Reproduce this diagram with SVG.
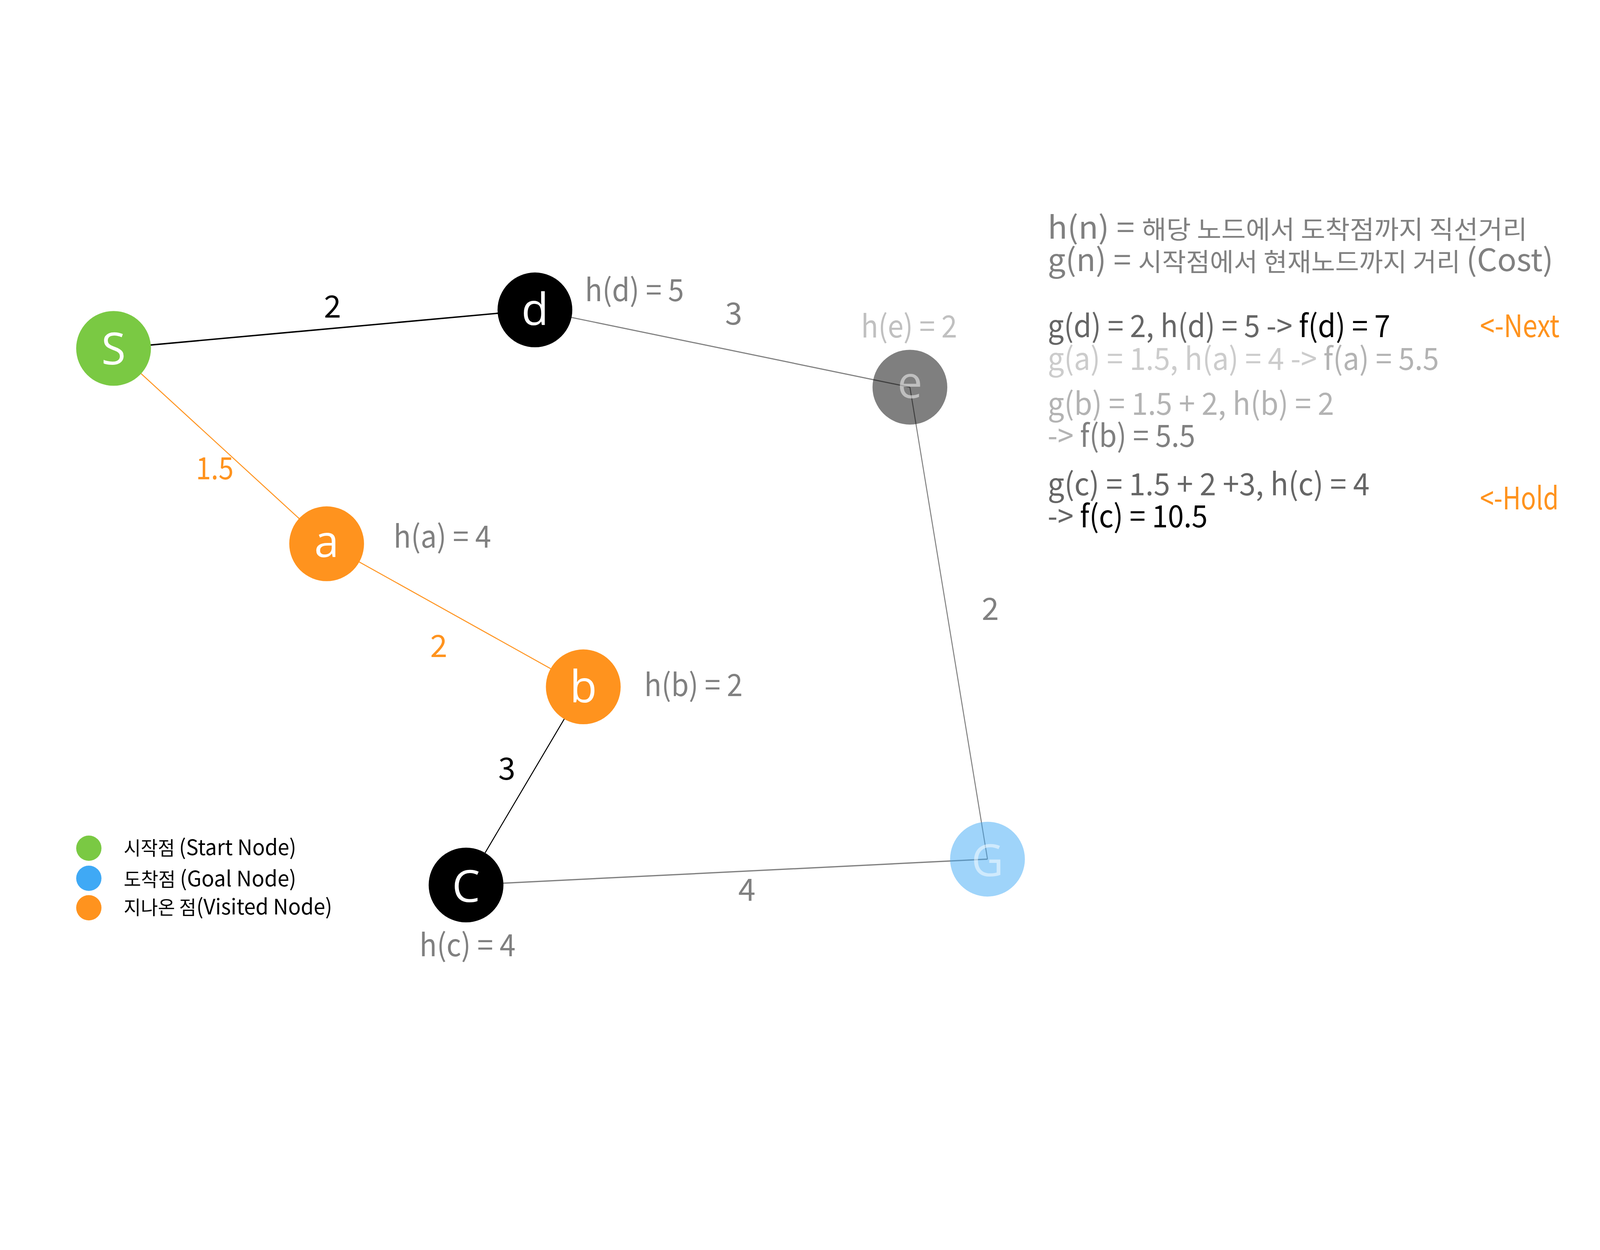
<svg xmlns="http://www.w3.org/2000/svg" width="5692" height="3200" viewBox="0 0 5692 3200">
  <style>
    svg:root { width: 100vw; height: 100vh; }
    text { font-family: "Noto Sans CJK KR", "Noto Sans", sans-serif; }
    .nl { font-family: "Open Sans", "Noto Sans", sans-serif; font-size: 158px; fill: #ffffff; text-anchor: middle; }
    .lb { font-size: 110px; }
    .el { font-size: 110px; text-anchor: middle; }
    .pn { font-size: 110px; }
    .ko { font-size: 90px; }
    .lg { font-size: 76px; fill: #000000; }
    .lk { font-size: 68px; }
    .gray { fill: #808080; }
    .orange { fill: #FF931E; }
  </style>
  <rect x="0" y="0" width="5692" height="3200" fill="#ffffff"/>

  <g id="connectors">
    <line id="edge-S-d" x1="404" y1="616" x2="1903" y2="479" stroke="#000000" stroke-width="5"/>
    <line id="edge-d-e" x1="1903" y1="479" x2="3237" y2="754" stroke="#808080" stroke-width="4"/>
    <line id="edge-S-a" x1="404" y1="616" x2="1162" y2="1311" stroke="#FF931E" stroke-width="3.5"/>
    <line id="edge-a-b" x1="1162" y1="1311" x2="2075" y2="1820" stroke="#FF931E" stroke-width="3.5"/>
    <line id="edge-b-c" x1="2075" y1="1820" x2="1658" y2="2525" stroke="#000000" stroke-width="3.5"/>
    <line id="edge-e-G" x1="3237" y1="754" x2="3513" y2="2433" stroke="#808080" stroke-width="3.5"/>
    <line id="edge-c-G" x1="1658" y1="2525" x2="3513" y2="2433" stroke="#808080" stroke-width="4.5"/>
    <text class="el" x="1183" y="507" fill="#000000">2</text>
    <text class="el gray" x="2610" y="531">3</text>
    <text class="el orange" x="764" y="1082" textLength="134" lengthAdjust="spacingAndGlyphs">1.5</text>
    <text class="el orange" x="1561" y="1714">2</text>
    <text class="el" x="1803" y="2151" fill="#000000">3</text>
    <text class="el gray" x="3523" y="1582">2</text>
    <text class="el gray" x="2657" y="2581">4</text>
  </g>

  <g id="node-S">
    <circle cx="404" cy="616" r="133" fill="#7AC943"/>
    <text class="nl" x="404" y="673">S</text>
  </g>
  <g id="node-d">
    <circle cx="1903" cy="479" r="133" fill="#000000"/>
    <text class="nl" x="1903" y="533">d</text>
    <text class="lb gray" x="2081" y="448" textLength="352" lengthAdjust="spacingAndGlyphs">h(d) = 5</text>
  </g>
  <g id="node-e">
    <circle cx="3237" cy="754" r="133" fill="#000000" fill-opacity="0.5"/>
    <text class="nl" x="3237" y="793" fill-opacity="0.5">e</text>
    <text class="lb" x="3063" y="577" fill="#c0c0c0" textLength="342" lengthAdjust="spacingAndGlyphs">h(e) = 2</text>
  </g>
  <g id="node-a">
    <circle cx="1162" cy="1311" r="133" fill="#FF931E"/>
    <text class="nl" x="1162" y="1358">a</text>
    <text class="lb gray" x="1400" y="1325" textLength="347" lengthAdjust="spacingAndGlyphs">h(a) = 4</text>
  </g>
  <g id="node-b">
    <circle cx="2075" cy="1820" r="133" fill="#FF931E"/>
    <text class="nl" x="2075" y="1875">b</text>
    <text class="lb gray" x="2292" y="1853" textLength="350" lengthAdjust="spacingAndGlyphs">h(b) = 2</text>
  </g>
  <g id="node-c">
    <circle cx="1658" cy="2525" r="133" fill="#000000"/>
    <text class="nl" x="1658" y="2585">C</text>
    <text class="lb gray" x="1492" y="2779" textLength="342" lengthAdjust="spacingAndGlyphs">h(c) = 4</text>
  </g>
  <g id="node-G">
    <circle cx="3513" cy="2433" r="133" fill="#3FA9F5" fill-opacity="0.5"/>
    <text class="nl" x="3513" y="2493" fill-opacity="0.5">G</text>
  </g>

  <g id="panel">
    <text class="pn gray" x="3727" y="226" textLength="1706" lengthAdjust="spacingAndGlyphs">h(n) = <tspan class="ko">해당 노드에서 도착점까지 직선거리</tspan></text>
    <text class="pn gray" x="3727" y="341" textLength="1799" lengthAdjust="spacingAndGlyphs">g(n) = <tspan class="ko">시작점에서 현재노드까지 거리 </tspan>(Cost)</text>
    <text class="pn" x="3727" y="576" fill="#666666" textLength="1219" lengthAdjust="spacingAndGlyphs">g(d) = 2, h(d) = 5 -&gt; <tspan fill="#000000">f(d) = 7</tspan></text>
    <text class="pn" x="3727" y="692" fill="#cccccc" textLength="1392" lengthAdjust="spacingAndGlyphs">g(a) = 1.5, h(a) = 4 -&gt; <tspan fill="#b3b3b3">f(a) = 5.5</tspan></text>
    <text class="pn" x="3727" y="852" fill="#b3b3b3" textLength="1019" lengthAdjust="spacingAndGlyphs">g(b) = 1.5 + 2, h(b) = 2</text>
    <text class="pn" x="3727" y="966" fill="#b3b3b3" textLength="525" lengthAdjust="spacingAndGlyphs">-&gt; <tspan fill="#808080">f(b) = 5.5</tspan></text>
    <text class="pn" x="3727" y="1139" fill="#666666" textLength="1145" lengthAdjust="spacingAndGlyphs">g(c) = 1.5 + 2 +3, h(c) = 4</text>
    <text class="pn" x="3727" y="1253" fill="#666666" textLength="569" lengthAdjust="spacingAndGlyphs">-&gt; <tspan fill="#000000">f(c) = 10.5</tspan></text>
    <text class="pn orange" x="5265" y="576" textLength="283" lengthAdjust="spacingAndGlyphs">&lt;-Next</text>
    <text class="pn orange" x="5265" y="1189" textLength="280" lengthAdjust="spacingAndGlyphs">&lt;-Hold</text>
  </g>

  <g id="legend">
    <circle cx="316" cy="2394" r="45" fill="#7AC943"/>
    <circle cx="316" cy="2501" r="45" fill="#3FA9F5"/>
    <circle cx="316" cy="2606" r="45" fill="#FF931E"/>
    <text class="lg" x="440" y="2419" textLength="614" lengthAdjust="spacingAndGlyphs"><tspan class="lk">시작점 </tspan>(Start Node)</text>
    <text class="lg" x="440" y="2529" textLength="614" lengthAdjust="spacingAndGlyphs"><tspan class="lk">도착점 </tspan>(Goal Node)</text>
    <text class="lg" x="440" y="2630" textLength="742" lengthAdjust="spacingAndGlyphs"><tspan class="lk">지나온 점</tspan>(Visited Node)</text>
  </g>
</svg>
